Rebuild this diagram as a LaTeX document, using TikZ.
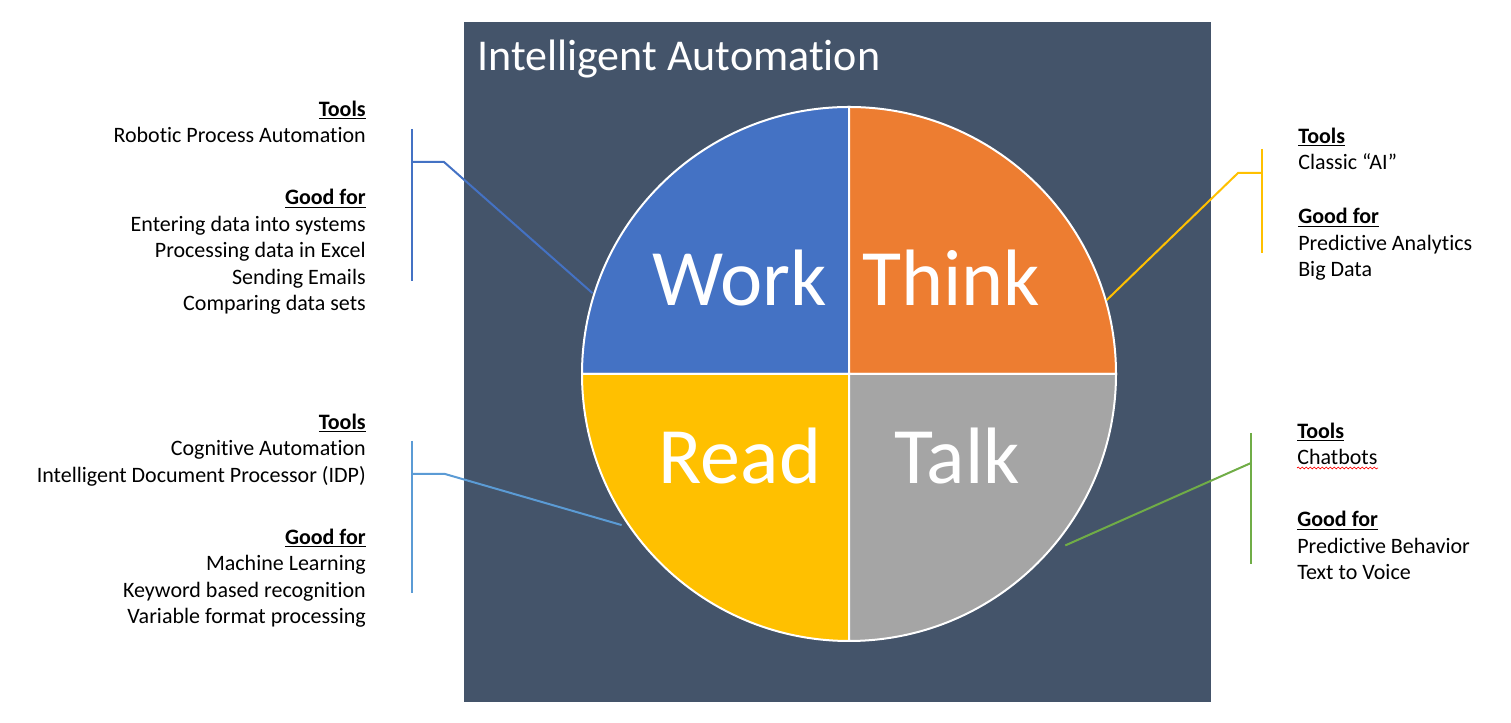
\documentclass[tikz,border=0pt]{standalone}
\usepackage{fontspec}
\setmainfont{Carlito}[Ligatures={TeX,NoCommon}]
\usetikzlibrary{calc, decorations.pathmorphing}
\definecolor{cslate}{HTML}{44546A}
\definecolor{cblue}{HTML}{4472C4}
\definecolor{corange}{HTML}{ED7D31}
\definecolor{cgold}{HTML}{FFC000}
\definecolor{cgrey}{HTML}{A5A5A5}
\definecolor{csky}{HTML}{5B9BD5}
\definecolor{cgreen}{HTML}{70AD47}
\tikzset{
  every picture/.style={x=0.75pt, y=0.75pt},
  quad/.style={fill=#1, draw=white, line width=1.5pt},
  word/.style={text=white, font=\fontsize{60}{72}\selectfont, inner sep=0pt, anchor=base},
  info/.style={font=\fontsize{16.5}{19.9}\selectfont, inner sep=0pt, align=#1},
  lead/.style={draw=#1, line width=1.5pt},
  title/.style={text=white, font=\fontsize{33}{40}\selectfont, inner sep=0pt, anchor=base west},
}
\newcommand{\hd}[1]{\underline{\textbf{#1}}}

\begin{document}
\begin{tikzpicture}
  \useasboundingbox (0,0) rectangle (1511,723);
  % background panel
  \fill[cslate] (464,21) rectangle (1211,701);
  \node[title] (ttl) at (477,652) {Intelligent Automation};

  % the four quarters
  \coordinate (c) at (849,349);
  \draw[quad=cblue] (c) -- ++(180:267) arc[start angle=180, end angle=90, radius=267] -- cycle;
  \draw[quad=corange] (c) -- ++(90:267) arc[start angle=90, end angle=0, radius=267] -- cycle;
  \draw[quad=cgold] (c) -- ++(180:267) arc[start angle=180, end angle=270, radius=267] -- cycle;
  \draw[quad=cgrey] (c) -- ++(270:267) arc[start angle=270, end angle=360, radius=267] -- cycle;
  \node[word] (work) at (740,417) {Work};
  \node[word] (think) at (951,417) {Think};
  \node[word] (read) at (740,239) {Read};
  \node[word] (talk) at (957,239) {Talk};

  % text blocks (base = last line)
  \node[info=right, anchor=base east] (worktxt) at (366,412) {\hd{Tools}\\Robotic Process Automation\\[26.6pt]\hd{Good for}\\Entering data into systems\\Processing data in Excel\\Sending Emails\\Comparing data sets};
  \node[info=left, anchor=base west] (thinktxt) at (1298,446) {\hd{Tools}\\Classic “AI”\\[20.6pt]\hd{Good for}\\Predictive Analytics\\Big Data};
  \node[info=right, anchor=base east] (readtxt) at (366,99) {\hd{Tools}\\Cognitive Automation\\Intelligent Document Processor (IDP)\\[26.6pt]\hd{Good for}\\Machine Learning\\Keyword based recognition\\Variable format processing};
  \node[info=left, anchor=base west] (talktxt) at (1297,143) {\hd{Tools}\\Chatbots\\[26.6pt]\hd{Good for}\\Predictive Behavior\\Text to Voice};

  % callout brackets
  \coordinate (w1) at (412,594); \coordinate (w2) at (412,442);
  \coordinate (wj) at (412,561); \coordinate (wk) at (444,561);
  \coordinate (we) at ($(c)+(162.5:269)$);
  \draw[lead=cblue] (w1) -- (w2);
  \draw[lead=cblue] (wj) -- (wk) -- (we);

  \coordinate (k1) at (1262,574); \coordinate (k2) at (1262,470);
  \coordinate (kj) at (1262,550); \coordinate (kk) at (1238,550);
  \coordinate (ke) at ($(c)+(16:268)$);
  \draw[lead=cgold] (k1) -- (k2);
  \draw[lead=cgold] (kj) -- (kk) -- (ke);

  \coordinate (r1) at (412,282); \coordinate (r2) at (412,130);
  \coordinate (rj) at (412,249); \coordinate (rk) at (445,249);
  \coordinate (re) at ($(c)+(213.6:273)$);
  \draw[lead=csky] (r1) -- (r2);
  \draw[lead=csky] (rj) -- (rk) -- (re);

  \coordinate (t1) at (1251,290); \coordinate (t2) at (1251,159);
  \coordinate (tj) at (1251,260);
  \coordinate (te) at ($(c)+(-38.4:276)$);
  \draw[lead=cgreen] (t1) -- (t2);
  \draw[lead=cgreen] (tj) -- (te);

  % spelling squiggle
  \coordinate (sq1) at (1297,255); \coordinate (sq2) at (1378,255);
  \draw[red, line width=0.5pt, decorate, decoration={snake, amplitude=0.7pt, segment length=3pt}] (sq1) -- (sq2);
\end{tikzpicture}
\end{document}
